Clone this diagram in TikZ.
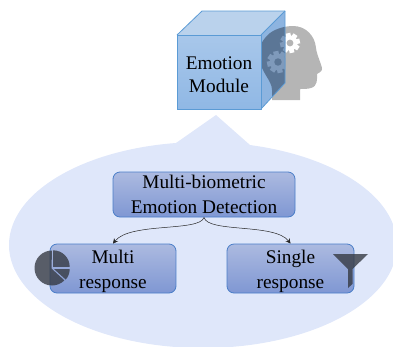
\documentclass[tikz,border=0pt]{standalone}
\usepackage{fontspec}
\setmainfont{Liberation Serif}
\usetikzlibrary{arrows.meta}

\definecolor{bubblefill}{HTML}{DFE7FA}
\definecolor{boxline}{HTML}{4A7EC8}
\definecolor{boxtop}{HTML}{ACBAE0}
\definecolor{boxbottom}{HTML}{7F97D3}
\definecolor{cubeline}{HTML}{5B9BD5}
\definecolor{cubetop}{HTML}{BAD2EC}
\definecolor{cubeside}{HTML}{8DB4E0}
\definecolor{cubefronttop}{HTML}{A8C7EA}
\definecolor{cubefrontbottom}{HTML}{90B8E5}
\definecolor{iconfill}{HTML}{33373F}
\definecolor{headgrey}{HTML}{B5B5B5}
\definecolor{headdark}{HTML}{5B7696}
\definecolor{geardark}{HTML}{7F9ABB}

\newcommand{\headpath}{(259,56) .. controls (258,46) and (264,38) .. (270,33)
    .. controls (277,28) and (286,26) .. (293,26)
    .. controls (306,26) and (315,36) .. (316,48)
    .. controls (317,56) and (322,65) .. (322,69)
    .. controls (322,72) and (318,73) .. (317,74)
    .. controls (317,79) and (318,86) .. (311,88)
    .. controls (308,89) and (303,89) .. (300,89)
    -- (300,100) -- (272,100) -- (272,90)
    .. controls (272,80) and (260,72) .. (259,56) -- cycle}
\newcommand{\gearicon}[5]{%
  \foreach \ang in {0,45,...,315}
    \fill[#4, rotate around={\ang+12:(#1,#2)}] (#1-0.24*#3,#2) rectangle (#1+0.24*#3,#2+#3);
  \fill[#4] (#1,#2) circle (0.76*#3);
  \fill[#5] (#1,#2) circle (0.34*#3);
}
\newcommand{\lift}{\rule{0pt}{19pt}}

\tikzset{
  respbox/.style={draw=boxline, line width=0.8pt, rounded corners=7pt, top color=boxtop, bottom color=boxbottom,
    align=center, inner sep=0pt, font=\fontsize{19.3}{24.5}\selectfont, text=black},
  flowarrow/.style={-{Stealth[length=5pt,width=5pt]}, line width=0.5pt, black!85},
  cubeface/.style={draw=cubeline, line width=0.8pt, line join=round}
}

\begin{document}
\begin{tikzpicture}[x=1pt,y=-1pt]
  \useasboundingbox (0,0) rectangle (393,346);

  % bubble
  \begin{scope}
    \clip (0,0) rectangle (393,346);
    \fill[bubblefill] (203,245) ellipse [x radius=194pt, y radius=103pt];
    \fill[bubblefill] (176,143) -- (216,115) -- (250,145) -- cycle;
  \end{scope}

  % head
  \fill[headgrey] \headpath;
  \gearicon{290}{43}{10}{white}{headgrey}

  % cube
  \fill[cubetop] (202,11) -- (285,11) -- (261,35) -- (177,35) -- cycle;
  \fill[cubeside] (285,11) -- (285,83) -- (261,109) -- (261,35) -- cycle;
  \begin{scope}
    \clip (285,11) -- (285,83) -- (261,109) -- (259,109) -- (259,35) -- (261,35) -- cycle;
    \fill[headdark] \headpath;
    \gearicon{290}{43}{10}{geardark}{headdark}
    \gearicon{278}{62}{11}{geardark}{headdark}
  \end{scope}
  \draw[cubeface] (177,35) -- (202,11) -- (285,11) -- (285,83) -- (261,109);
  \draw[cubeface] (285,11) -- (261,35);
  \node[cubeface, top color=cubefronttop, bottom color=cubefrontbottom, minimum width=84pt, minimum height=74pt,
    align=center, inner sep=0pt, font=\fontsize{19.3}{23}\selectfont] (emotion) at (219,72) {\lift Emotion\\Module};

  % boxes
  \node[respbox, minimum width=182pt, minimum height=45pt] (detect) at (204,194.5) {Multi-biometric\\Emotion Detection};
  \node[respbox, minimum width=126pt, minimum height=49pt] (multi) at (113,268.5) {\lift Multi\\response};
  \node[respbox, minimum width=127pt, minimum height=49pt] (single) at (290.5,268.5) {\lift Single\\response};

  % arrows
  \draw[flowarrow] (detect.south) .. controls (200,232) and (130,222) .. (multi.north);
  \draw[flowarrow] (detect.south) .. controls (208,233) and (275,223) .. (single.north);

  % icons
  \begin{scope}[shift={(52,268)},y=1pt,fill opacity=0.78]
    \fill[iconfill] (-0.5,-0.5) -- (90:17.5) arc (90:315:17.5) -- cycle;
    \fill[iconfill] (1.2,1.2) -- ++(90:16.5) arc (90:0:16.5) -- cycle;
    \fill[iconfill] (2.2,-1.2) -- ++(0:15.5) arc (0:-42:15.5) -- cycle;
  \end{scope}
  \fill[iconfill, fill opacity=0.78] (333,254) -- (368,254) -- (352.5,269) -- (352.5,284) -- (348,288) -- (348,269) -- cycle;
\end{tikzpicture}
\end{document}
